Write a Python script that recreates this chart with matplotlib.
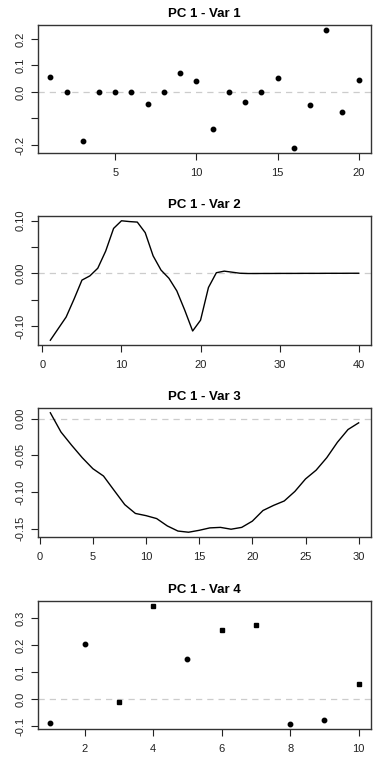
import matplotlib
matplotlib.use("Agg")
import matplotlib.pyplot as plt

plt.rcParams["font.family"] = ["Liberation Sans", "DejaVu Sans"]

# --- Data ---
x1 = list(range(1, 21))
var1 = [0.055, 0.0, -0.184, 0.0, 0.0, 0.0, -0.045, 0.0, 0.0725, 0.040,
        -0.141, 0.0, -0.0375, 0.0, 0.054, -0.2125, -0.049, 0.235, -0.076, 0.045]

x2 = list(range(1, 41))
var2 = [-0.127, -0.105, -0.083, -0.049, -0.013, -0.005, 0.0095, 0.042, 0.085, 0.0995,
        0.098, 0.097, 0.077, 0.033, 0.006, -0.0095, -0.0335, -0.070, -0.1095, -0.089,
        -0.027, 0.001, 0.004, 0.002, 0.0, -0.0005, -0.0005, -0.0004, -0.0004, -0.0003,
        -0.0003, -0.0003, -0.0002, -0.0002, -0.0002, -0.0001, -0.0001, -0.0001, 0.0, 0.0]

x3 = list(range(1, 31))
var3 = [0.0082, -0.018, -0.036, -0.053, -0.068, -0.078, -0.0976, -0.117, -0.129, -0.132,
        -0.136, -0.146, -0.153, -0.1546, -0.152, -0.1487, -0.148, -0.1505, -0.148, -0.1395,
        -0.125, -0.118, -0.112, -0.099, -0.082, -0.070, -0.053, -0.032, -0.0146, -0.0055]

x4 = list(range(1, 11))
var4 = [-0.087, 0.204, -0.011, 0.345, 0.149, 0.256, 0.275, -0.092, -0.075, 0.055]
var4_marker = ["o", "o", "s", "s", "o", "s", "s", "o", "o", "s"]

titles = ["PC 1 - Var 1", "PC 1 - Var 2", "PC 1 - Var 3", "PC 1 - Var 4"]

# --- Layout (pixels, from top) ---
W, H = 384, 768
left, right = 38, 371
boxes = [(25, 153), (216, 345), (408, 537), (601, 729)]


def r_style(ax, xs, ys, xticks, yticks, ylabels):
    pad_x = (max(xs) - min(xs)) * 0.04
    pad_y = (max(ys) - min(ys)) * 0.04
    ax.set_xlim(min(xs) - pad_x, max(xs) + pad_x)
    ax.set_ylim(min(ys) - pad_y, max(ys) + pad_y)
    ax.set_xticks(xticks)
    ax.set_xticklabels([str(t) for t in xticks])
    ax.set_yticks(yticks)
    ax.set_yticklabels(ylabels, rotation=90, va="center")
    ax.tick_params(direction="out", length=5, width=0.8, labelsize=8,
                   colors="#222222")
    ax.tick_params(axis="x", pad=6)
    ax.tick_params(axis="y", pad=4)
    for s in ax.spines.values():
        s.set_linewidth(1.0)
        s.set_color("#333333")
    ax.axhline(0, color="#cccccc", linestyle=(0, (5, 4)), linewidth=0.9, zorder=0)


fig = plt.figure(figsize=(W / 100, H / 100), dpi=100)
axes = []
for top, bot in boxes:
    axes.append(fig.add_axes([left / W, 1 - bot / H, (right - left) / W, (bot - top) / H]))

# Panel 1
ax = axes[0]
ax.plot(x1, var1, "o", color="black", markersize=3.2)
r_style(ax, x1, var1, [5, 10, 15, 20], [-0.2, -0.1, 0.0, 0.1, 0.2],
        ["-0.2", "", "0.0", "0.1", "0.2"])

# Panel 2
ax = axes[1]
ax.plot(x2, var2, color="black", linewidth=1.0)
r_style(ax, x2, var2, [0, 10, 20, 30, 40], [-0.10, -0.05, 0.0, 0.05, 0.10],
        ["-0.10", "", "0.00", "", "0.10"])

# Panel 3
ax = axes[2]
ax.plot(x3, var3, color="black", linewidth=1.0)
r_style(ax, x3, var3, [0, 5, 10, 15, 20, 25, 30], [-0.15, -0.10, -0.05, 0.0],
        ["-0.15", "-0.10", "-0.05", "0.00"])

# Panel 4
ax = axes[3]
for xv, yv, m in zip(x4, var4, var4_marker):
    ax.plot(xv, yv, m, color="black", markersize=3.2 if m == "o" else 2.8)
r_style(ax, x4, var4, [2, 4, 6, 8, 10], [-0.1, 0.0, 0.1, 0.2, 0.3],
        ["-0.1", "0.0", "0.1", "0.2", "0.3"])

for ax, t in zip(axes, titles):
    ax.set_title(t, fontsize=9.5, fontweight="bold", pad=6)

fig.savefig("out.png", dpi=100)
